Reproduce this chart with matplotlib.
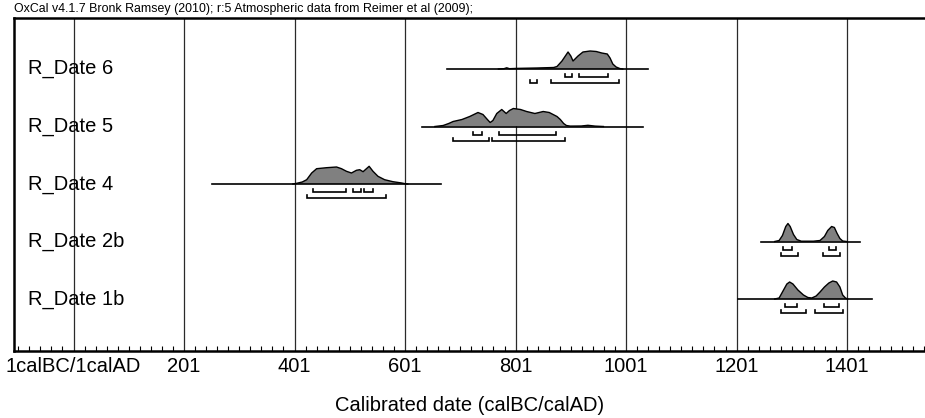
import numpy as np
import matplotlib
matplotlib.use('Agg')
import matplotlib.pyplot as plt

plt.rcParams['font.family'] = ['Liberation Sans', 'DejaVu Sans']

names = ['R_Date 6', 'R_Date 5', 'R_Date 4', 'R_Date 2b', 'R_Date 1b']

# extent of the horizontal line drawn for each date
line_ranges = [(677, 1040), (631, 1031), (252, 666), (1245, 1424), (1203, 1446)]

# probability curves (year, relative height)
date6_yr = [770, 780, 785, 790, 803, 840, 870, 876, 885, 896, 901, 905, 914, 923, 936, 947, 957, 967, 972, 977, 983, 990, 995]
date6_p = [0, 0.3, 1.2, 0.3, 0.6, 1, 1.5, 2.5, 8, 17, 13, 8, 13, 17, 18, 17.5, 16, 15, 11, 5, 2, 0.4, 0]

date5_yr = [655, 670, 680, 688, 704, 718, 733, 742, 750, 755, 760, 767, 776, 784, 790, 797, 810, 821, 836, 851, 862, 869, 876, 882, 888, 893, 900, 920, 932, 945, 960]
date5_p = [0, 1, 3, 5, 7, 10, 14, 12, 7, 4, 6, 13, 17, 13, 16, 18, 17, 15, 13, 15, 14, 12, 10, 7, 3, 1, 0.4, 0.5, 1.2, 0.4, 0]

date4_yr = [398, 405, 415, 423, 432, 441, 459, 477, 486, 495, 504, 513, 519, 525, 536, 543, 552, 564, 579, 595, 601, 606]
date4_p = [0, 0.7, 2, 4.3, 11, 15.3, 16.3, 17, 15.3, 12.7, 11, 13.7, 14.3, 12.3, 17.7, 12.7, 7.7, 4.3, 2.3, 1, 0.3, 0]

date2b_yr = [1270, 1278, 1284, 1290, 1294, 1298, 1304, 1310, 1318, 1340, 1352, 1360, 1366, 1373, 1378, 1383, 1388, 1393, 1400]
date2b_p = [0, 1, 6, 15, 18, 15, 7, 2, 0.3, 0.3, 1, 5, 11, 15, 14, 8, 3, 0.5, 0]

date1b_yr = [1270, 1278, 1285, 1292, 1297, 1303, 1312, 1322, 1330, 1337, 1345, 1352, 1360, 1368, 1375, 1382, 1388, 1393, 1398, 1402]
date1b_p = [0, 1, 8, 15, 17, 15, 9, 4, 1.5, 1, 3, 7, 12, 16, 18, 17, 12, 4, 1, 0]

curves_yr = [date6_yr, date5_yr, date4_yr, date2b_yr, date1b_yr]
curves_p = [date6_p, date5_p, date4_p, date2b_p, date1b_p]

# 68.2% and 95.4% ranges
ranges68 = [[(890, 903), (916, 968)],
            [(724, 740), (771, 874)],
            [(435, 495), (507, 521), (527, 543)],
            [(1285, 1301), (1368, 1381)],
            [(1289, 1310), (1359, 1386)]]
ranges95 = [[(827, 840), (866, 988)],
            [(688, 753), (758, 890)],
            [(424, 566)],
            [(1282, 1313), (1358, 1389)],
            [(1282, 1327), (1343, 1393)]]

major_ticks = [1, 201, 401, 601, 801, 1001, 1201, 1401]
tick_labels = ['1calBC/1calAD', '201', '401', '601', '801', '1001', '1201', '1401']

## Plot

fig = plt.figure(figsize=(9.25, 4.18), dpi=100)
ax = fig.add_axes([14 / 925, 1 - 351 / 418, 1 - 14 / 925, (351 - 18) / 418])

px = 1 / 57.5          # one pixel in y data units
scale = px             # curve height units are pixels
ypos = [5, 4, 3, 2, 1]

for g in major_ticks:
    ax.axvline(g, color='#2a2a2a', lw=0.9, zorder=1)

for i in range(len(names)):
    y0 = ypos[i]
    a, b = line_ranges[i]
    ax.plot([a, b], [y0, y0], color='black', lw=1.2, zorder=3)
    yr = np.array(curves_yr[i])
    p = np.array(curves_p[i]) * scale
    ax.fill_between(yr, y0, y0 + p, facecolor='#808080', edgecolor='none', zorder=2)
    ax.plot(yr, y0 + p, color='black', lw=1.0, zorder=3)

    for lev, rr in [(8, ranges68[i]), (14, ranges95[i])]:
        yb = y0 - lev * px
        for s, e in rr:
            ax.plot([s, s, e, e], [yb + 3 * px, yb, yb, yb + 3 * px],
                    color='black', lw=1.2, zorder=3, solid_joinstyle='miter')

    ax.text(-81, y0, names[i], fontsize=14.5, ha='left', va='center', zorder=4)

ax.set_xlim(-106.7, 1542)
ax.set_ylim(1 - 52 * px, 5 + 51 * px)

ax.set_xticks(major_ticks)
ax.set_xticklabels(tick_labels, fontsize=14.5)
ax.set_xticks(np.arange(-99, 1542, 20), minor=True)
ax.tick_params(axis='x', which='major', length=0, pad=4)
ax.tick_params(axis='x', which='minor', direction='in', length=3.8, width=0.8)
ax.set_yticks([])

ax.spines['right'].set_visible(False)
for s in ['left', 'top', 'bottom']:
    ax.spines[s].set_linewidth(1.8)

ax.set_xlabel('Calibrated date (calBC/calAD)', fontsize=14.5, labelpad=15)

fig.text(14 / 925, 1 - 9 / 418,
         'OxCal v4.1.7 Bronk Ramsey (2010); r:5 Atmospheric data from Reimer et al (2009);',
         fontsize=8.9, ha='left', va='center')

fig.savefig('out.png', dpi=100)
